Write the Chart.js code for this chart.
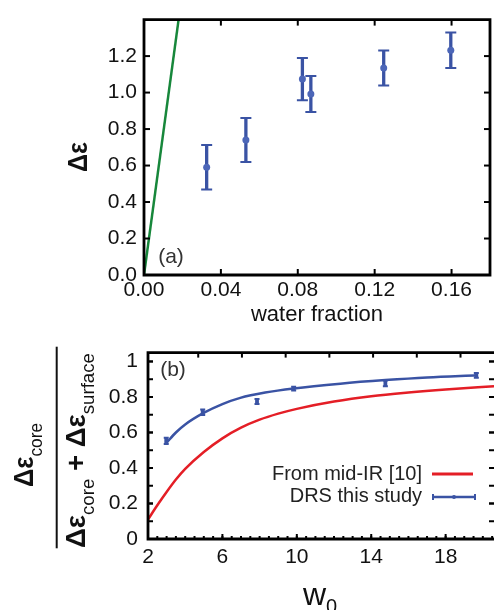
<!DOCTYPE html>
<html>
<head>
<meta charset="utf-8">
<script src="https://cdn.jsdelivr.net/npm/chart.js@4.4.1/dist/chart.umd.min.js"></script>
<style>
  html, body { margin: 0; padding: 0; background: #fff; overflow: hidden; }
  #wrapA { position: absolute; left: 0; top: 0; width: 494px; height: 330px; }
  #wrapB { position: absolute; left: 0; top: 330px; width: 494px; height: 280px; }
</style>
</head>
<body>
<div id="wrapA"><canvas id="chartA" width="494" height="330"></canvas></div>
<div id="wrapB"><canvas id="chartB" width="494" height="280"></canvas></div>
<script>
// ---- panel (a): delta epsilon vs water fraction ----
const waterFraction = [0.0326, 0.053, 0.0824, 0.0868, 0.1247, 0.1596];
const deltaEps = [0.59, 0.74, 1.074, 0.992, 1.135, 1.232];
const deltaEpsErr = [0.122, 0.121, 0.116, 0.099, 0.096, 0.097];
const greenX = [0, 0.018];
const greenY = [0, 1.4];
const ticksAX = [0, 0.04, 0.08, 0.12, 0.16];
const ticksAY = [0, 0.2, 0.4, 0.6, 0.8, 1.0, 1.2];

// ---- panel (b): core fraction vs w0 ----
const w0Ir = [2, 2.5, 3, 3.5, 4, 5, 6, 7, 8, 9, 10, 12, 14, 16, 18, 20.6];
const ratioIr = [0.11, 0.19, 0.265, 0.335, 0.395, 0.49, 0.567, 0.627, 0.672, 0.706, 0.733, 0.774, 0.804, 0.825, 0.842, 0.86];
const w0Fit = [2.98, 3.5, 4, 4.99, 6, 6.96, 8.3, 9.83, 12.34, 14.76, 17, 19.68];
const ratioFit = [0.54, 0.60, 0.645, 0.71, 0.76, 0.795, 0.825, 0.848, 0.875, 0.895, 0.91, 0.922];
const w0Drs = [2.98, 4.94, 7.86, 9.83, 14.76, 19.65];
const ratioDrs = [0.553, 0.714, 0.775, 0.847, 0.877, 0.922];
const ratioDrsErr = [0.018, 0.016, 0.014, 0.011, 0.016, 0.013];
const ticksBX = [2, 6, 10, 14, 18];
const ticksBTop = [4.7, 7.05, 9.4, 11.75, 14.1, 16.45, 18.8];
const ticksBY = [0, 0.2, 0.4, 0.6, 0.8, 1.0];
const legendLabels = ['From mid-IR [10]', 'DRS this study'];

const FONT = "'Liberation Sans', Arial, Helvetica, sans-serif";
const RED = '#e41e26';
const BLUE = '#3a53a4';
const GREEN = '#17873b';

// texto con subindices, opcionalmente rotado
function drawRich(ctx, parts, x, y, rotate, targetLen) {
  ctx.save();
  ctx.translate(x, y);
  if (rotate) ctx.rotate(-Math.PI / 2);
  let total = 0;
  parts.forEach(p => { ctx.font = p.font; p.w = ctx.measureText(p.text).width; total += p.w; });
  const sx = targetLen ? targetLen / total : 1;
  ctx.scale(sx, 1);
  let cx = -total / 2;
  ctx.textAlign = 'left';
  ctx.textBaseline = 'alphabetic';
  parts.forEach(p => {
    ctx.font = p.font;
    ctx.fillStyle = p.color || '#111';
    ctx.fillText(p.text, cx, p.dy || 0);
    cx += p.w;
  });
  ctx.restore();
}

// marco con ticks hacia adentro
const framePlugin = {
  id: 'frame',
  afterDatasetsDraw(chart, args, o) {
    const { ctx, chartArea: a, scales: { x, y } } = chart;
    ctx.save();
    ctx.strokeStyle = '#000';
    ctx.lineWidth = 2;
    const line = (x1, y1, x2, y2) => { ctx.beginPath(); ctx.moveTo(x1, y1); ctx.lineTo(x2, y2); ctx.stroke(); };
    o.bottomX.forEach(v => { const px = x.getPixelForValue(v); line(px, a.bottom, px, a.bottom - o.len); });
    o.topX.forEach(v => { const px = x.getPixelForValue(v); line(px, a.top, px, a.top + o.len); });
    o.sideY.forEach(v => {
      const py = y.getPixelForValue(v);
      line(a.left, py, a.left + o.len, py);
      line(a.right, py, a.right - o.len, py);
    });
    if (o.minorX) {
      for (let v = x.min + o.minorX; v < x.max; v += o.minorX) {
        const px = x.getPixelForValue(v);
        line(px, a.bottom, px, a.bottom - o.minorLen);
      }
    }
    if (o.minorY) {
      for (let v = o.minorY; v < y.max; v += o.minorY) {
        const py = y.getPixelForValue(v);
        line(a.left, py, a.left + o.len, py);
        line(a.right, py, a.right - o.len, py);
      }
    }
    ctx.lineWidth = 2.8;
    ctx.beginPath();
    if (o.noRight) {
      ctx.moveTo(a.right + 2, a.top); ctx.lineTo(a.left, a.top);
      ctx.lineTo(a.left, a.bottom); ctx.lineTo(a.right + 2, a.bottom);
    } else {
      ctx.rect(a.left, a.top, a.right - a.left, a.bottom - a.top);
    }
    ctx.stroke();
    ctx.restore();
  }
};

// barras de error
const errorBarPlugin = {
  id: 'errorBars',
  beforeDatasetsDraw(chart) {
    const { ctx } = chart;
    const y = chart.scales.y;
    chart.data.datasets.forEach((ds, i) => {
      if (!ds.errors) return;
      const meta = chart.getDatasetMeta(i);
      ctx.save();
      ctx.strokeStyle = ds.errorColor;
      meta.data.forEach((pt, j) => {
        const v = ds.data[j].y, e = ds.errors[j];
        const top = y.getPixelForValue(v + e), bot = y.getPixelForValue(v - e);
        ctx.lineWidth = ds.errorWidth;
        ctx.beginPath(); ctx.moveTo(pt.x, top); ctx.lineTo(pt.x, bot); ctx.stroke();
        ctx.lineWidth = ds.capWidth;
        ctx.beginPath();
        ctx.moveTo(pt.x - ds.capHalf, top); ctx.lineTo(pt.x + ds.capHalf, top);
        ctx.moveTo(pt.x - ds.capHalf, bot); ctx.lineTo(pt.x + ds.capHalf, bot);
        ctx.stroke();
      });
      ctx.restore();
    });
  }
};

const labelsA = {
  id: 'labelsA',
  afterDraw(chart) {
    const ctx = chart.ctx;
    drawRich(ctx, [{ text: 'Δε', font: `bold 28px ${FONT}` }], 87, 157, true, 30);
    ctx.save();
    ctx.font = `21px ${FONT}`;
    ctx.fillStyle = '#333';
    ctx.textAlign = 'center';
    ctx.textBaseline = 'middle';
    ctx.fillText('(a)', 171, 257);
    ctx.restore();
  }
};

const labelsB = {
  id: 'labelsB',
  afterDraw(chart) {
    const ctx = chart.ctx;
    const big = `bold 28px ${FONT}`, sub = `19px ${FONT}`;
    // fraccion del eje y
    drawRich(ctx, [{ text: 'Δε', font: big }, { text: 'core', font: sub, dy: 9 }], 33, 125, true, 64);
    drawRich(ctx, [
      { text: 'Δε', font: big }, { text: 'core', font: sub, dy: 9 },
      { text: ' + ', font: big },
      { text: 'Δε', font: big }, { text: 'surface', font: sub, dy: 9 }
    ], 85, 120.5, true, 195);
    ctx.save();
    ctx.strokeStyle = '#111';
    ctx.lineWidth = 2;
    ctx.beginPath(); ctx.moveTo(56.7, 16.7); ctx.lineTo(56.7, 218.3); ctx.stroke();
    ctx.restore();
    // eje x: w0
    drawRich(ctx, [{ text: 'w', font: `32px ${FONT}` }, { text: '0', font: `20px ${FONT}`, dy: 8 }], 320, 275, false);
    // etiqueta del panel
    ctx.save();
    ctx.font = `21px ${FONT}`;
    ctx.fillStyle = '#333';
    ctx.textAlign = 'center';
    ctx.textBaseline = 'middle';
    ctx.fillText('(b)', 173, 40);
    // leyenda
    ctx.font = `20px ${FONT}`;
    ctx.fillStyle = '#222';
    ctx.textAlign = 'right';
    ctx.fillText(legendLabels[0], 422, 144);
    ctx.fillText(legendLabels[1], 422, 166.7);
    ctx.lineWidth = 3;
    ctx.strokeStyle = RED;
    ctx.beginPath(); ctx.moveTo(432, 144); ctx.lineTo(473, 144); ctx.stroke();
    ctx.strokeStyle = BLUE;
    ctx.lineWidth = 2.5;
    ctx.beginPath(); ctx.moveTo(432, 167); ctx.lineTo(476, 167); ctx.stroke();
    ctx.lineWidth = 2;
    ctx.beginPath();
    ctx.moveTo(433, 164); ctx.lineTo(433, 170);
    ctx.moveTo(475, 164); ctx.lineTo(475, 170);
    ctx.stroke();
    ctx.fillStyle = BLUE;
    ctx.beginPath(); ctx.arc(454, 167, 2, 0, Math.PI * 2); ctx.fill();
    ctx.restore();
  }
};

const tickFont = { family: FONT, size: 21 };

// ---- grafico (a) ----
new Chart(document.getElementById('chartA'), {
  type: 'scatter',
  data: {
    datasets: [
      {
        type: 'line',
        data: greenX.map((x, i) => ({ x, y: greenY[i] })),
        borderColor: GREEN,
        borderWidth: 2.5,
        pointRadius: 0,
        fill: false
      },
      {
        data: waterFraction.map((x, i) => ({ x, y: deltaEps[i] })),
        backgroundColor: '#4c66b8',
        borderWidth: 0,
        pointRadius: 3.5,
        errors: deltaEpsErr,
        errorColor: BLUE,
        errorWidth: 3.3,
        capWidth: 2,
        capHalf: 5.5
      }
    ]
  },
  options: {
    responsive: false,
    animation: false,
    layout: { padding: { top: 13, right: 1, left: 0, bottom: 0 } },
    plugins: {
      legend: { display: false },
      tooltip: { enabled: false },
      frame: { bottomX: ticksAX.slice(1), topX: ticksAX.slice(1), sideY: ticksAY.slice(1), len: 6 }
    },
    scales: {
      x: {
        type: 'linear', min: 0, max: 0.18,
        afterBuildTicks: s => { s.ticks = ticksAX.map(v => ({ value: v })); },
        afterFit: s => { s.height = 55; },
        grid: { display: false, drawTicks: false },
        border: { display: false },
        ticks: { color: '#111', font: tickFont, padding: 3, maxRotation: 0, callback: v => v.toFixed(2) },
        title: { display: true, text: 'water fraction', color: '#111', font: { family: FONT, size: 22 }, padding: { top: 0, bottom: 2 } }
      },
      y: {
        type: 'linear', min: 0, max: 1.4,
        afterBuildTicks: s => { s.ticks = ticksAY.map(v => ({ value: v })); },
        afterFit: s => { s.width = 144; },
        grid: { display: false, drawTicks: false },
        border: { display: false },
        ticks: { color: '#111', font: tickFont, padding: 7, callback: v => v.toFixed(1) }
      }
    }
  },
  plugins: [errorBarPlugin, framePlugin, labelsA]
});

// ---- grafico (b) ----
new Chart(document.getElementById('chartB'), {
  type: 'scatter',
  data: {
    datasets: [
      {
        type: 'line',
        data: w0Ir.map((x, i) => ({ x, y: ratioIr[i] })),
        borderColor: RED,
        borderWidth: 2.5,
        pointRadius: 0,
        cubicInterpolationMode: 'monotone',
        fill: false
      },
      {
        type: 'line',
        data: w0Fit.map((x, i) => ({ x, y: ratioFit[i] })),
        borderColor: BLUE,
        borderWidth: 2.5,
        pointRadius: 0,
        cubicInterpolationMode: 'monotone',
        fill: false
      },
      {
        data: w0Drs.map((x, i) => ({ x, y: ratioDrs[i] })),
        pointRadius: 0,
        errors: ratioDrsErr,
        errorColor: BLUE,
        errorWidth: 3.8,
        capWidth: 2,
        capHalf: 2.5
      }
    ]
  },
  options: {
    responsive: false,
    animation: false,
    layout: { padding: { top: 13, right: 0, left: 0, bottom: 0 } },
    plugins: {
      legend: { display: false },
      tooltip: { enabled: false },
      frame: {
        bottomX: ticksBX.slice(1), topX: ticksBTop, sideY: ticksBY.slice(1),
        len: 5, minorX: 0.5, minorLen: 3, minorY: 0.1, noRight: true
      }
    },
    scales: {
      x: {
        type: 'linear', min: 2, max: 20.6,
        afterBuildTicks: s => { s.ticks = ticksBX.map(v => ({ value: v })); },
        afterFit: s => { s.height = 71; },
        grid: { display: false, drawTicks: false },
        border: { display: false },
        ticks: { color: '#111', font: tickFont, padding: 6, maxRotation: 0 }
      },
      y: {
        type: 'linear', min: 0, max: 1.05,
        afterBuildTicks: s => { s.ticks = ticksBY.map(v => ({ value: v })); },
        afterFit: s => { s.width = 148; },
        grid: { display: false, drawTicks: false },
        border: { display: false },
        ticks: {
          color: '#111', font: tickFont, padding: 10,
          callback: v => (v === 0 ? '0' : v === 1 ? '1' : v.toFixed(1))
        }
      }
    }
  },
  plugins: [errorBarPlugin, framePlugin, labelsB]
});
</script>
</body>
</html>
